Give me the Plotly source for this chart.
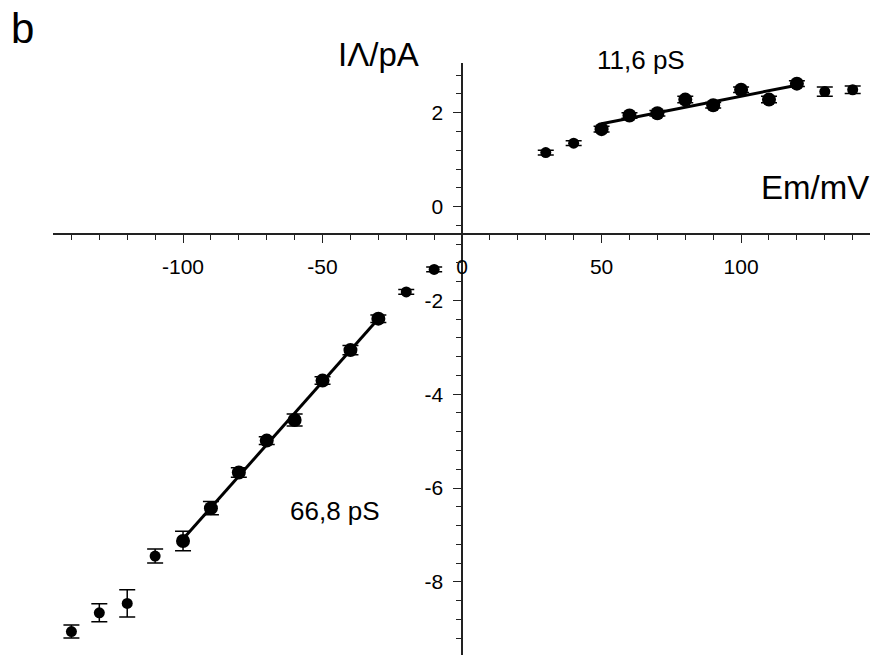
import numpy as np
import plotly.graph_objects as go

# ---- data ----
neg_x = [-140, -130, -120, -110, -100, -90, -80, -70, -60, -50, -40, -30, -20, -10]
neg_y = [-9.06, -8.66, -8.46, -7.45, -7.13, -6.43, -5.67, -4.99, -4.55, -3.71, -3.06, -2.39, -1.82, -1.34]
neg_err = [0.14, 0.19, 0.29, 0.15, 0.21, 0.14, 0.10, 0.08, 0.13, 0.08, 0.10, 0.08, 0.05, 0.05]

pos_x = [30, 40, 50, 60, 70, 80, 90, 100, 110, 120, 130, 140]
pos_y = [1.15, 1.35, 1.65, 1.94, 1.99, 2.28, 2.16, 2.49, 2.28, 2.62, 2.45, 2.49]
pos_err = [0.05, 0.05, 0.06, 0.06, 0.06, 0.07, 0.06, 0.06, 0.07, 0.06, 0.10, 0.08]

neg_fit_range = [-100, -30]
pos_fit_range = [50, 120]

x_ticks = [-100, -50, 0, 50, 100]
x_tick_text = ["-100", "-50", "0", "50", "100"]
y_ticks = [-8, -6, -4, -2, 0, 2]
y_tick_text = ["-8", "-6", "-4", "-2", "0", "2"]

x_label = "Em/mV"
y_label = "IΛ/pA"
panel_label = "b"
neg_g_label = "66,8 pS"
pos_g_label = "11,6 pS"

# ---- layout geometry ----
W, H = 877, 655
ML, MR, MT, MB = 53, 7, 63, 0
PW, PH = W - ML - MR, H - MT - MB
x_range = [-146.6, 146.2]
y_range = [-9.56, 3.06]
x_axis_at_y = -0.58   # the horizontal axis sits a little below I = 0
y_axis_at_x = 0.0


def px2paper(px, py):
    return (px - ML) / PW, (H - MB - py) / PH


fig = go.Figure()


def add_branch(xs, ys, es, fit_rng):
    xs = np.array(xs, float)
    ys = np.array(ys, float)
    es = np.array(es, float)
    infit = (xs >= fit_rng[0]) & (xs <= fit_rng[1])
    k, b = np.polyfit(xs[infit], ys[infit], 1)
    fx = np.array(fit_rng, float)
    fig.add_trace(go.Scatter(x=fx, y=k * fx + b, mode="lines",
                             line=dict(color="black", width=3), hoverinfo="skip"))
    for mask, size in ((~infit, 11), (infit, 14)):
        fig.add_trace(go.Scatter(
            x=xs[mask], y=ys[mask], mode="markers",
            marker=dict(color="black", size=size),
            error_y=dict(type="data", array=es[mask], color="black",
                         thickness=1.5, width=8),
        ))


add_branch(neg_x, neg_y, neg_err, neg_fit_range)
add_branch(pos_x, pos_y, pos_err, pos_fit_range)

axis_font = dict(family="Liberation Sans, Arial, sans-serif", size=21, color="black")

x_pos = (x_axis_at_y - y_range[0]) / (y_range[1] - y_range[0])
y_pos = (y_axis_at_x - x_range[0]) / (x_range[1] - x_range[0])

fig.update_layout(
    width=W, height=H,
    margin=dict(l=ML, r=MR, t=MT, b=MB, pad=0),
    paper_bgcolor="white", plot_bgcolor="white",
    showlegend=False,
    xaxis=dict(range=x_range, anchor="free", position=x_pos,
               tickvals=x_ticks, ticktext=x_tick_text,
               ticks="outside", ticklen=8, tickwidth=1.3,
               tickcolor="#222", showline=True, linecolor="#222", linewidth=1.5,
               showgrid=False, zeroline=False, tickfont=axis_font,
               ticklabelstandoff=6,
               minor=dict(dtick=10, tick0=0, ticks="outside", ticklen=5,
                          tickwidth=1.1, tickcolor="#222", showgrid=False)),
    yaxis=dict(range=y_range, anchor="free", position=y_pos,
               tickvals=y_ticks, ticktext=y_tick_text,
               ticks="outside", ticklen=8, tickwidth=1.3,
               tickcolor="#222", showline=True, linecolor="#222", linewidth=1.5,
               showgrid=False, zeroline=False, tickfont=axis_font,
               ticklabelstandoff=6,
               minor=dict(dtick=0.4, tick0=0, ticks="outside", ticklen=5,
                          tickwidth=1.1, tickcolor="#222", showgrid=False)),
)

txt_font = "Liberation Sans, Arial, sans-serif"


def add_text(text, px, py, size):
    ax, ay = px2paper(px, py)
    fig.add_annotation(text=text, x=ax, y=ay, xref="paper", yref="paper",
                       xanchor="center", yanchor="middle", showarrow=False,
                       font=dict(family=txt_font, size=size, color="black"))


add_text(panel_label, 22, 29, 42)
add_text(y_label, 378, 55, 33)
add_text(pos_g_label, 641, 60, 26)
add_text(x_label, 815, 187, 33)
add_text(neg_g_label, 335, 511, 26)

fig.write_html("out.html")
